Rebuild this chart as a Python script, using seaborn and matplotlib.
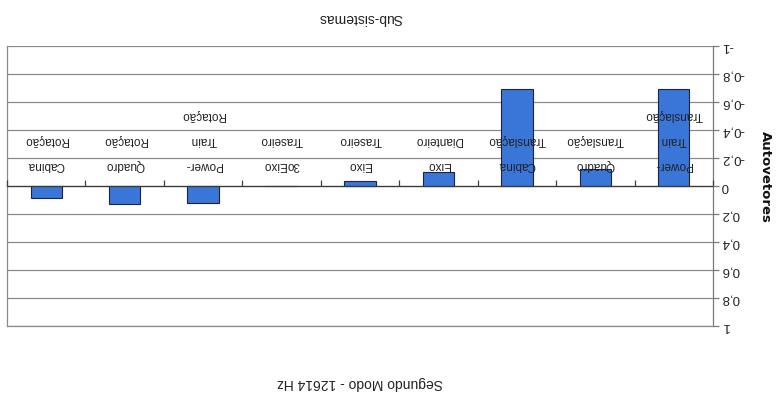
import numpy as np
import pandas as pd
import matplotlib
matplotlib.use("Agg")
import matplotlib.pyplot as plt
import seaborn as sns

# Sub-systems (wrapped as they appear under the axis) and their eigenvector components
categorias = [
    "Power-\nTrain\nTranslação",
    "Quadro\nTranslação",
    "Cabina\nTranslação",
    "Eixo\nDianteiro",
    "Eixo\nTraseiro",
    "3oEixo\nTraseiro",
    "Power-\nTrain\nRotação",
    "Quadro\nRotação",
    "Cabina\nRotação",
]
autovetores = [-0.69, -0.12, -0.69, -0.10, -0.035, 0.0, 0.12, 0.125, 0.085]

valores_y = [-1, -0.8, -0.6, -0.4, -0.2, 0, 0.2, 0.4, 0.6, 0.8, 1]
rotulos_y = [f"{v:g}".replace(".", ",") for v in valores_y]

titulo = "Segundo Modo - 12614 Hz"
rotulo_x = "Sub-sistemas"
rotulo_y = "Autovetores"

sns.set_theme(style="white")
plt.rcParams["font.family"] = ["Liberation Sans", "DejaVu Sans"]

df = pd.DataFrame({"sub": categorias, "valor": autovetores})

W, H = 776, 403
fig = plt.figure(figsize=(W / 100, H / 100), dpi=100)
fig.patch.set_facecolor("white")
ax = fig.add_axes([7 / W, 77 / H, 706 / W, 280 / H])
ax.set_facecolor("white")

sns.barplot(data=df, x="sub", y="valor", order=categorias, color="#3a76d8",
            saturation=1, width=0.4, edgecolor="#1c2340", linewidth=0.8, ax=ax)

# whole chart is shown turned half a revolution
n = len(categorias)
ax.set_xlim(n - 0.5, -0.5)
ax.set_ylim(1, -1)
ax.set_xlabel("")
ax.set_ylabel("")
ax.set_axisbelow(False)

# horizontal gridlines behind the bars
ax.hlines(valores_y, -0.5, n - 0.5, colors="#8a8a8a", linewidth=0.9, zorder=0.5)

# value axis on the right
ax.yaxis.tick_right()
ax.set_yticks(valores_y)
ax.tick_params(axis="y", which="major", right=True, left=False, length=4,
               width=0.9, color="#7a7a7a", pad=2)
ax.set_yticklabels(rotulos_y, rotation=180, fontsize=9.5, va="center",
                   color="#222222")

# category axis crossing at zero, labels between the axis and the bars' tips
ax.spines["top"].set_position(("data", 0))
ax.xaxis.set_ticks_position("top")
ax.set_xticks(np.arange(n + 1) - 0.5)
ax.set_xticks(np.arange(n), minor=True)
ax.tick_params(axis="x", which="major", top=True, bottom=False, labeltop=False,
               labelbottom=False, length=4, width=0.9, color="#404040",
               direction="out")
ax.tick_params(axis="x", which="minor", top=True, bottom=False, labeltop=True,
               labelbottom=False, length=0, pad=11)
ax.set_xticklabels(categorias, minor=True, rotation=180, fontsize=8.5,
                   linespacing=2.45, ha="center", va="bottom", color="#222222",
                   multialignment="center")

for lado, cor in [("top", "#3a3a3a"), ("right", "#7a7a7a"),
                  ("left", "#8a8a8a"), ("bottom", "#8a8a8a")]:
    ax.spines[lado].set_visible(True)
    ax.spines[lado].set_color(cor)
    ax.spines[lado].set_linewidth(0.9)

cx = (7 + 713) / 2 / W
fig.text(cx, 1 - 18 / H, rotulo_x, rotation=180, ha="center", va="center",
         fontsize=10, color="#222222")
fig.text(cx, 1 - 383 / H, titulo, rotation=180, ha="center", va="center",
         fontsize=10, color="#222222")
fig.text(765 / W, 1 - 177 / H, rotulo_y, rotation=270, ha="center",
         va="center", fontsize=9.5, fontweight="bold",
         family=["DejaVu Sans"], color="#111111")

fig.savefig("out.png", dpi=100)
